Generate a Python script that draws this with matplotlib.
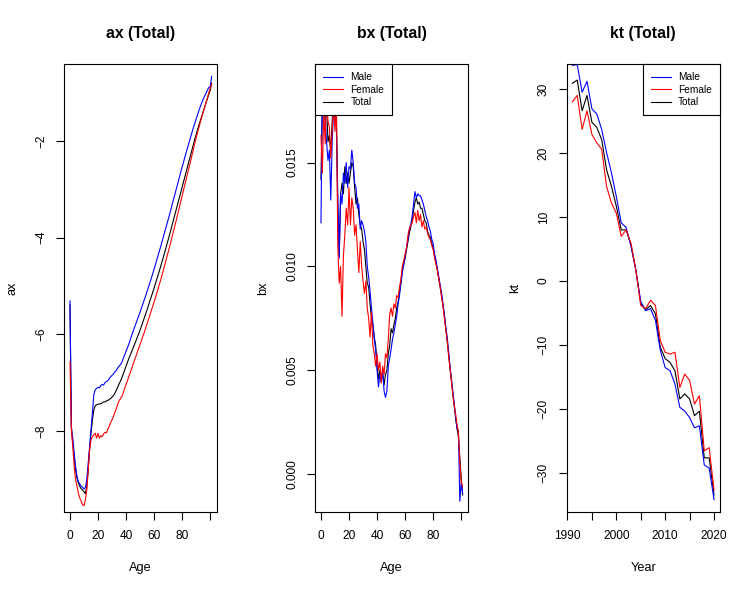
import matplotlib
matplotlib.use("Agg")
import matplotlib.pyplot as plt

plt.rcParams['font.family'] = ['Liberation Sans', 'DejaVu Sans']

# ---- data ----
ages = list(range(0, 102))
years = list(range(1991, 2021))

ax_male = [
    -5.31, -7.95, -8.15, -8.46, -8.74, -8.94, -9.05, -9.10, -9.15, -9.17,
    -9.20, -9.18, -9.00, -8.67, -8.32, -7.98, -7.63, -7.25, -7.15, -7.12,
    -7.10, -7.11, -7.06, -7.04, -7.05, -7.00, -6.98, -6.96, -6.92, -6.88,
    -6.85, -6.82, -6.78, -6.75, -6.70, -6.66, -6.63, -6.58, -6.50, -6.43,
    -6.35, -6.28, -6.20, -6.11, -6.02, -5.94, -5.86, -5.78, -5.70, -5.62,
    -5.54, -5.455, -5.37, -5.285, -5.20, -5.11, -5.02, -4.93, -4.84, -4.745,
    -4.65, -4.55, -4.45, -4.35, -4.25, -4.15, -4.045, -3.94, -3.835, -3.73,
    -3.625, -3.52, -3.41, -3.30, -3.19, -3.08, -2.97, -2.86, -2.75, -2.64,
    -2.535, -2.43, -2.325, -2.22, -2.12, -2.02, -1.92, -1.82, -1.72, -1.63,
    -1.54, -1.45, -1.36, -1.28, -1.20, -1.13, -1.07, -1.01, -0.94, -0.89,
    -0.87, -0.66]
ax_female = [
    -6.57, -7.98, -8.32, -8.74, -9.01, -9.15, -9.29, -9.39, -9.46, -9.53,
    -9.55, -9.43, -9.22, -8.81, -8.39, -8.19, -8.12, -8.08, -8.05, -8.15,
    -8.05, -8.15, -8.10, -8.12, -8.06, -8.03, -8.04, -7.97, -7.90, -7.83,
    -7.77, -7.70, -7.62, -7.54, -7.45, -7.38, -7.33, -7.29, -7.21, -7.12,
    -7.04, -6.96, -6.87, -6.79, -6.71, -6.62, -6.54, -6.46, -6.37, -6.29,
    -6.21, -6.13, -6.04, -5.96, -5.87, -5.78, -5.69, -5.60, -5.51, -5.42,
    -5.33, -5.235, -5.14, -5.04, -4.94, -4.84, -4.735, -4.63, -4.52, -4.41,
    -4.30, -4.19, -4.075, -3.96, -3.845, -3.73, -3.61, -3.49, -3.37, -3.25,
    -3.13, -3.01, -2.89, -2.77, -2.65, -2.53, -2.41, -2.29, -2.17, -2.05,
    -1.93, -1.82, -1.71, -1.60, -1.50, -1.40, -1.30, -1.20, -1.10, -1.00,
    -0.90, -0.82]
ax_total = [
    -5.39, -7.90, -8.26, -8.53, -8.81, -8.98, -9.08, -9.15, -9.20, -9.22,
    -9.26, -9.30, -9.15, -8.81, -8.39, -8.05, -7.77, -7.57, -7.48, -7.46,
    -7.45, -7.44, -7.44, -7.42, -7.40, -7.40, -7.38, -7.37, -7.35, -7.33,
    -7.30, -7.27, -7.22, -7.16, -7.10, -7.03, -6.97, -6.90, -6.82, -6.74,
    -6.66, -6.58, -6.50, -6.43, -6.36, -6.28, -6.21, -6.14, -6.06, -5.99,
    -5.91, -5.83, -5.745, -5.66, -5.575, -5.49, -5.40, -5.31, -5.22, -5.13,
    -5.04, -4.945, -4.85, -4.755, -4.66, -4.56, -4.46, -4.36, -4.255, -4.15,
    -4.045, -3.94, -3.83, -3.72, -3.61, -3.50, -3.39, -3.28, -3.17, -3.06,
    -2.95, -2.84, -2.73, -2.62, -2.51, -2.40, -2.29, -2.18, -2.07, -1.96,
    -1.86, -1.76, -1.66, -1.57, -1.48, -1.39, -1.30, -1.21, -1.12, -1.03,
    -0.95, -0.80]

bx_male = [
    0.0121, 0.0185, 0.0192, 0.0172, 0.0160, 0.0151, 0.0156, 0.0132, 0.0160, 0.0175,
    0.0186, 0.0166, 0.0135, 0.0104, 0.0135, 0.0130, 0.0145, 0.0140, 0.0150, 0.0138,
    0.0148, 0.0147, 0.0156, 0.0150, 0.0140, 0.0138, 0.0128, 0.0130, 0.0118, 0.0122,
    0.0120, 0.0117, 0.0112, 0.0100, 0.0095, 0.0088, 0.0080, 0.0073, 0.0065, 0.0060,
    0.0050, 0.0042, 0.0048, 0.0044, 0.0050, 0.0040, 0.0037, 0.0040, 0.0052, 0.0056,
    0.0060, 0.0065, 0.0068, 0.0072, 0.0076, 0.0082, 0.0086, 0.0092, 0.0097, 0.0101,
    0.0105, 0.0109, 0.0113, 0.0118, 0.0120, 0.0124, 0.0130, 0.0136, 0.0133, 0.0135,
    0.0134, 0.0134, 0.0132, 0.0130, 0.0127, 0.0124, 0.0122, 0.0119, 0.0117, 0.0113,
    0.0111, 0.0106, 0.0103, 0.0099, 0.0095, 0.0091, 0.0087, 0.0082, 0.0077, 0.0071,
    0.0066, 0.0059, 0.0052, 0.0046, 0.0040, 0.0034, 0.0028, 0.0022, 0.0021, -0.0013,
    -0.0004, -0.0009]
bx_female = [
    0.0163, 0.0145, 0.0175, 0.0159, 0.0185, 0.0170, 0.0167, 0.0152, 0.0166, 0.0178,
    0.0165, 0.0180, 0.0110, 0.0092, 0.0100, 0.0076, 0.0105, 0.0115, 0.0128, 0.0120,
    0.0138, 0.0120, 0.0133, 0.0128, 0.0115, 0.0120, 0.0108, 0.0097, 0.0112, 0.0100,
    0.0093, 0.0087, 0.0093, 0.0080, 0.0075, 0.0066, 0.0078, 0.0062, 0.0058, 0.0052,
    0.0058, 0.0050, 0.0054, 0.0044, 0.0052, 0.0048, 0.0058, 0.0056, 0.0065, 0.0077,
    0.0080, 0.0076, 0.0082, 0.0080, 0.0086, 0.0085, 0.0090, 0.0094, 0.0100, 0.0103,
    0.0106, 0.0109, 0.0115, 0.0118, 0.0120, 0.0121, 0.0124, 0.0126, 0.0121, 0.0127,
    0.0122, 0.0125, 0.0119, 0.0122, 0.0118, 0.0119, 0.0116, 0.0114, 0.0113, 0.0110,
    0.0108, 0.0104, 0.0101, 0.0098, 0.0094, 0.0090, 0.0085, 0.0081, 0.0075, 0.0070,
    0.0064, 0.0057, 0.0051, 0.0045, 0.0038, 0.0033, 0.0029, 0.0024, 0.0020, 0.0006,
    -0.0004, -0.0006]
bx_total = [
    0.0142, 0.0180, 0.0190, 0.0170, 0.0178, 0.0160, 0.0163, 0.0155, 0.0170, 0.0180,
    0.0170, 0.0172, 0.0125, 0.0105, 0.0135, 0.0140, 0.0135, 0.0148, 0.0140, 0.0145,
    0.0140, 0.0145, 0.0150, 0.0148, 0.0138, 0.0130, 0.0133, 0.0125, 0.0120, 0.0118,
    0.0112, 0.0108, 0.0100, 0.0092, 0.0090, 0.0082, 0.0075, 0.0072, 0.0066, 0.0062,
    0.0052, 0.0046, 0.0050, 0.0046, 0.0048, 0.0043, 0.0048, 0.0050, 0.0058, 0.0062,
    0.0070, 0.0068, 0.0072, 0.0075, 0.0080, 0.0083, 0.0088, 0.0092, 0.0098, 0.0101,
    0.0104, 0.0108, 0.0112, 0.0116, 0.0119, 0.0122, 0.0127, 0.0131, 0.0133, 0.0130,
    0.0131, 0.0128, 0.0128, 0.0125, 0.0122, 0.0121, 0.0117, 0.0115, 0.0114, 0.0111,
    0.0109, 0.0105, 0.0102, 0.0098, 0.0094, 0.0090, 0.0086, 0.0081, 0.0076, 0.0070,
    0.0064, 0.0058, 0.0051, 0.0045, 0.0039, 0.0033, 0.0027, 0.0022, 0.0018, 0.0008,
    -0.0002, -0.0010]

kt_male = [33.7, 33.8, 29.5, 31.2, 26.9, 26.1, 23.7, 20.1, 16.9, 13.2,
           9.1, 8.4, 5.4, 1.7, -3.2, -4.6, -4.3, -6.1, -10.8, -13.5,
           -14.0, -16.1, -19.7, -20.3, -21.3, -22.9, -22.6, -28.7, -29.2, -34.1]
kt_female = [28.0, 29.0, 23.7, 26.6, 22.9, 21.6, 20.6, 14.8, 12.2, 10.6,
             7.0, 8.0, 5.9, 1.7, -3.8, -4.3, -3.0, -3.8, -9.3, -11.1,
             -11.4, -11.1, -16.6, -14.5, -15.5, -19.2, -17.9, -26.5, -26.0, -32.6]
kt_total = [30.9, 31.4, 26.6, 29.0, 24.8, 24.0, 22.1, 17.4, 14.8, 11.7,
            8.0, 8.0, 5.7, 1.7, -3.5, -4.5, -3.8, -5.1, -10.3, -12.1,
            -12.7, -14.0, -18.4, -17.6, -18.4, -21.0, -20.3, -27.6, -27.6, -33.4]

series_labels = ['Male', 'Female', 'Total']
series_colors = ['blue', 'red', 'black']

# ---- figure ----
fig = plt.figure(figsize=(7.53, 5.93), dpi=100)
W, H = 753.0, 593.0
box_lefts = [64.3, 315.3, 566.7]
box_w, box_top, box_bot = 153.0, 64.3, 512.0


def r_style(ax, xlab, ylab, title):
    for s in ax.spines.values():
        s.set_linewidth(0.8)
    ax.tick_params(direction='out', length=5.8, width=0.8, labelsize=8.6, pad=7.5)
    ax.tick_params(axis='y', labelrotation=90, pad=6.5)
    for lab in ax.get_yticklabels():
        lab.set_va('center')
    ax.set_xlabel(xlab, fontsize=9.2)
    ax.set_ylabel(ylab, fontsize=9.2)
    ax.xaxis.set_label_coords(0.5, -0.112)
    ax.yaxis.set_label_coords(-0.300, 0.5)
    ax.text(0.5, 1.069, title, transform=ax.transAxes, ha='center', va='center',
            fontsize=11.3, fontweight='bold')


axes = []
for left in box_lefts:
    a = fig.add_axes([left / W, 1 - box_bot / H, box_w / W, (box_bot - box_top) / H])
    axes.append(a)

lw = 0.8

# ax panel
a1 = axes[0]
a1.plot(ages, ax_total, color='black', lw=lw)
a1.plot(ages, ax_male, color='blue', lw=lw)
a1.plot(ages, ax_female, color='red', lw=lw)
a1.set_xlim(-4.04, 105.04)
a1.set_ylim(-9.68, -0.41)
a1.set_xticks([0, 20, 40, 60, 80, 100])
a1.set_xticklabels(['0', '20', '40', '60', '80', ''])
a1.set_yticks([-8, -6, -4, -2])
r_style(a1, 'Age', 'ax', 'ax (Total)')

# bx panel
a2 = axes[1]
a2.plot(ages, bx_total, color='black', lw=lw)
a2.plot(ages, bx_male, color='blue', lw=lw)
a2.plot(ages, bx_female, color='red', lw=lw)
a2.set_xlim(-4.04, 105.04)
a2.set_ylim(-0.00182, 0.01973)
a2.set_xticks([0, 20, 40, 60, 80, 100])
a2.set_xticklabels(['0', '20', '40', '60', '80', ''])
a2.set_yticks([0.0, 0.005, 0.010, 0.015])
a2.set_yticklabels(['0.000', '0.005', '0.010', '0.015'])
r_style(a2, 'Age', 'bx', 'bx (Total)')

# kt panel
a3 = axes[2]
a3.plot(years, kt_total, color='black', lw=lw)
a3.plot(years, kt_male, color='blue', lw=lw)
a3.plot(years, kt_female, color='red', lw=lw)
a3.set_xlim(1989.84, 2021.16)
a3.set_ylim(-36.05, 33.86)
a3.set_xticks([1990, 1995, 2000, 2005, 2010, 2015, 2020])
a3.set_xticklabels(['1990', '', '2000', '', '2010', '', '2020'])
a3.set_yticks([-30, -20, -10, 0, 10, 20, 30])
r_style(a3, 'Year', 'kt', 'kt (Total)')

# legends
handles = [plt.Line2D([], [], color=c, lw=lw) for c in series_colors]
for a, loc, anchor in [(a2, 'upper left', (0, 1)), (a3, 'upper right', (1, 1))]:
    leg = a.legend(handles, series_labels, loc=loc, bbox_to_anchor=anchor,
                   fontsize=7.3, frameon=True, fancybox=False, edgecolor='black',
                   framealpha=1, borderaxespad=0, handlelength=2.0,
                   handletextpad=0.7, labelspacing=0.25, borderpad=0.78)
    leg.get_frame().set_linewidth(0.8)

fig.savefig('out.png', dpi=100)
